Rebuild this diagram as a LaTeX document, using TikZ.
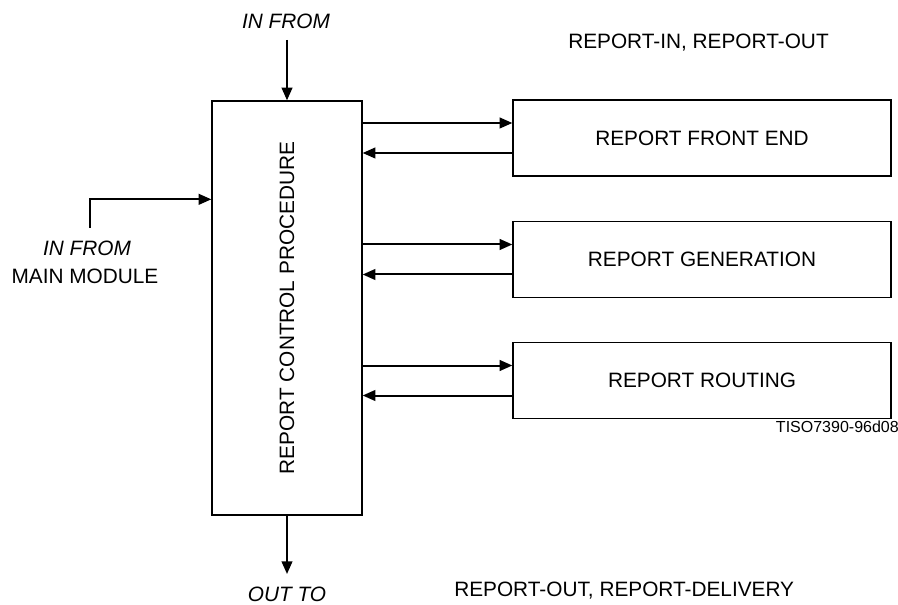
\documentclass[tikz,border=0pt]{standalone}
\usepackage{fontspec}
\setmainfont{Liberation Sans}
\usetikzlibrary{arrows.meta,calc}
\begin{document}
\begin{tikzpicture}[x=0.75pt,y=-0.75pt,
  lbl/.style={font=\fontsize{15.6}{18}\selectfont, inner sep=0pt},
  ilbl/.style={lbl, font=\fontsize{15.6}{18}\selectfont\itshape},
  blk/.style={draw, line width=1pt, inner sep=0pt},
  sub/.style={blk, minimum width=283.5pt, minimum height=57pt, font=\fontsize{15.6}{18}\selectfont},
  arr/.style={line width=1.5pt, -{Triangle[length=9.5pt,width=8pt]}}]
\useasboundingbox (0,0) rectangle (898,605);

% central control block
\node[blk, minimum width=112.5pt, minimum height=310.5pt] (main) at (287,308) {};
\node[lbl, rotate=90] (maintxt) at (main.center) {REPORT CONTROL PROCEDURE};

% subordinate blocks
\node[sub] (fe)  at (702,138)   {REPORT FRONT END};
\node[sub] (gen) at (702,259.5) {REPORT GENERATION};
\node[sub] (rt)  at (702,380.5) {REPORT ROUTING};

% request / reply pairs
\foreach \b in {fe,gen,rt}{
  \coordinate (\b-in)  at ([yshift=11.25pt]\b.west);
  \coordinate (\b-out) at ([yshift=-11.25pt]\b.west);
  \draw[arr] (main.east |- \b-in) -- (\b-in);
  \draw[arr] (\b-out) -- (main.east |- \b-out);
}

% input from above
\node[ilbl] (topin) at (286,21) {IN FROM};
\coordinate (topstart) at (287,40);
\draw[arr] (topstart) -- (main.north);

% input from main module
\node[ilbl] (mmin) at (87,248) {IN FROM};
\node[lbl] (mmname) at (85,276) {MAIN MODULE};
\coordinate (mmstart) at (90,228);
\draw[arr] (mmstart) |- ([yshift=-74.25pt]main.north west);

% output below
\coordinate (outend) at (287,574);
\draw[arr] (main.south) -- (outend);
\node[ilbl] (outto) at (287,594) {OUT TO};

% interface notes
\node[lbl, anchor=west] (notein) at (568,43) {REPORT-IN, REPORT-OUT};
\node[lbl, anchor=west] (noteout) at (454,591) {REPORT-OUT, REPORT-DELIVERY};
\node[lbl, font=\fontsize{12}{14}\selectfont, anchor=east] (tag) at (899,427) {TISO7390-96d08};
\end{tikzpicture}
\end{document}
